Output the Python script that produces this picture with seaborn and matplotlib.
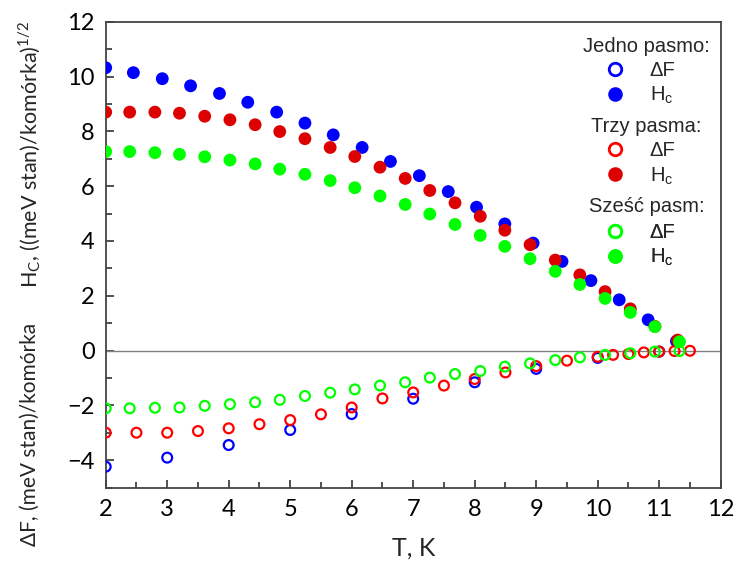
import matplotlib
matplotlib.use("Agg")
import matplotlib.pyplot as plt
import seaborn as sns
import numpy as np
import pandas as pd
from matplotlib.lines import Line2D

# ---- data ----
T_one_H = [2.0, 2.45, 2.92, 3.38, 3.85, 4.31, 4.78, 5.24, 5.70, 6.17, 6.63, 7.10,
           7.57, 8.03, 8.49, 8.95, 9.42, 9.89, 10.35, 10.82, 11.28]
H_one = [10.32, 10.14, 9.92, 9.66, 9.38, 9.06, 8.70, 8.30, 7.87, 7.41, 6.90, 6.38,
         5.80, 5.23, 4.62, 3.92, 3.25, 2.55, 1.85, 1.12, 0.34]
T_one_F = [2, 3, 4, 5, 6, 7, 8, 9, 10, 11]
F_one = [-4.24, -3.91, -3.45, -2.90, -2.32, -1.76, -1.16, -0.67, -0.27, -0.04]

T_three_H = [2.0, 2.39, 2.80, 3.20, 3.61, 4.02, 4.43, 4.83, 5.24, 5.65, 6.05, 6.46,
             6.87, 7.27, 7.68, 8.09, 8.49, 8.90, 9.31, 9.71, 10.12, 10.53, 10.93, 11.30]
H_three = [8.70, 8.70, 8.70, 8.66, 8.55, 8.42, 8.24, 7.99, 7.73, 7.41, 7.08, 6.69,
           6.28, 5.84, 5.39, 4.90, 4.39, 3.86, 3.30, 2.76, 2.15, 1.52, 0.88, 0.38]
T_three_F = [2.0, 2.5, 3.0, 3.5, 4.0, 4.5, 5.0, 5.5, 6.0, 6.5, 7.0, 7.5, 8.0, 8.5,
             9.0, 9.5, 10.0, 10.25, 10.5, 10.75, 11.0, 11.25, 11.5]
F_three = [-3.00, -3.00, -3.00, -2.94, -2.84, -2.69, -2.54, -2.33, -2.08, -1.75,
           -1.53, -1.28, -1.04, -0.80, -0.57, -0.37, -0.23, -0.16, -0.13, -0.07,
           -0.04, -0.02, -0.01]

T_six = [2.0, 2.39, 2.80, 3.20, 3.61, 4.02, 4.43, 4.83, 5.24, 5.65, 6.05, 6.46,
         6.87, 7.27, 7.68, 8.09, 8.49, 8.90, 9.31, 9.71, 10.12, 10.53, 10.93, 11.33]
H_six = [7.26, 7.26, 7.22, 7.16, 7.07, 6.95, 6.81, 6.62, 6.43, 6.20, 5.94, 5.64,
         5.33, 4.98, 4.60, 4.20, 3.80, 3.35, 2.89, 2.41, 1.90, 1.39, 0.87, 0.32]
F_six = [-2.11, -2.11, -2.09, -2.08, -2.02, -1.96, -1.89, -1.80, -1.66, -1.54, -1.42,
         -1.28, -1.16, -0.99, -0.86, -0.75, -0.59, -0.47, -0.35, -0.25, -0.16, -0.10,
         -0.04, -0.02]

group_titles = ["Jedno pasmo:", "Trzy pasma:", "Sześć pasm:"]
x_ticks = list(range(2, 13))
y_ticks = list(range(-4, 13, 2))

# ---- style ----
sns.set_style("white")
plt.rcParams['font.family'] = ['Lato', 'DejaVu Sans']
plt.rcParams['mathtext.fontset'] = 'custom'
plt.rcParams['mathtext.rm'] = 'Lato'

BLUE = "#0000FF"
RED_O = "#FF0000"
RED_F = "#DD0000"
GREEN = "#00FF00"

fig = plt.figure(figsize=(7.37, 5.71), dpi=100)
AX_L, AX_R, AX_T, AX_B = 105.7, 720.7, 21.7, 487.5  # pixel frame
ax = fig.add_axes([AX_L / 737, 1 - AX_B / 571, (AX_R - AX_L) / 737, (AX_B - AX_T) / 571])

def fx(px):
    return (px - AX_L) / (AX_R - AX_L)

def fy(py):
    return 1 - (py - AX_T) / (AX_B - AX_T)

ax.axhline(0, color="#7f7f7f", lw=1.0, zorder=1)

S_FILL = 85
S_OPEN = 50
LW_OPEN = 1.6

series = [
    (T_one_F, F_one, BLUE, False),
    (T_one_H, H_one, BLUE, True),
    (T_three_F, F_three, RED_O, False),
    (T_three_H, H_three, RED_F, True),
    (T_six, F_six, GREEN, False),
    (T_six, H_six, GREEN, True),
]
for i, (t, v, c, filled) in enumerate(series):
    df = pd.DataFrame({"T": t, "v": v})
    if filled:
        sns.scatterplot(data=df, x="T", y="v", ax=ax, s=S_FILL, color=c,
                        edgecolor="none", linewidth=0, zorder=3 + i, legend=False)
    else:
        sns.scatterplot(data=df, x="T", y="v", ax=ax, s=S_OPEN, facecolor="none",
                        edgecolor=c, linewidth=LW_OPEN, zorder=3 + i, legend=False)

ax.set_xlim(2, 12)
ax.set_ylim(-5, 12)
ax.set_xticks(x_ticks)
ax.set_yticks(y_ticks)
ax.set_xticks(np.arange(2.5, 12, 1), minor=True)
ax.set_yticks(np.arange(-5, 12, 2), minor=True)
ax.tick_params(axis="both", which="both", direction="in", colors="#333333",
               labelcolor="black", labelsize=17, width=1.2, top=False, right=False,
               left=True, bottom=True)
ax.tick_params(axis="both", which="major", length=6, pad=8)
ax.tick_params(axis="both", which="minor", length=4)
for sp in ax.spines.values():
    sp.set_color("#444444")
    sp.set_linewidth(1.3)

ax.set_xlabel("T, K", fontsize=18, labelpad=12)
ax.set_ylabel("")

fig.text(0.041, 0.73, r"$\mathregular{H_C}$, ((meV stan)/komórka)$^{\mathregular{1/2}}$",
         rotation=90, ha="center", va="center", fontsize=15.5)
fig.text(0.041, 0.24, "ΔF, (meV stan)/komórka", rotation=90, ha="center",
         va="center", fontsize=15)

# legends: group titles as text, entries as legends
cols = [(BLUE, BLUE), (RED_O, RED_F), (GREEN, GREEN)]
title_py = [46, 126, 206]
rows_mid_py = [83.5, 164, 245.5]
fam = ["Liberation Sans", "DejaVu Sans"]
for k, (title, (co, cf)) in enumerate(zip(group_titles, cols)):
    ax.text(fx(646.5), fy(title_py[k]), title, transform=ax.transAxes,
            ha="center", va="center", fontsize=14.5, family=fam)
    handles = [
        Line2D([], [], linestyle="none", marker="o", markersize=9,
               markerfacecolor="none", markeredgecolor=co, markeredgewidth=2.0),
        Line2D([], [], linestyle="none", marker="o", markersize=10.5,
               markerfacecolor=cf, markeredgecolor="none"),
    ]
    leg = ax.legend(handles, ["ΔF", r"$\mathregular{H_c}$"],
                    loc="center left", bbox_to_anchor=(fx(605.3), fy(rows_mid_py[k])),
                    frameon=False, handlelength=1.0, handletextpad=1.2,
                    labelspacing=0.25, borderpad=0.0, borderaxespad=0.0,
                    prop={"family": fam, "size": 14.5})
    ax.add_artist(leg)

fig.savefig("out.png", dpi=100)
